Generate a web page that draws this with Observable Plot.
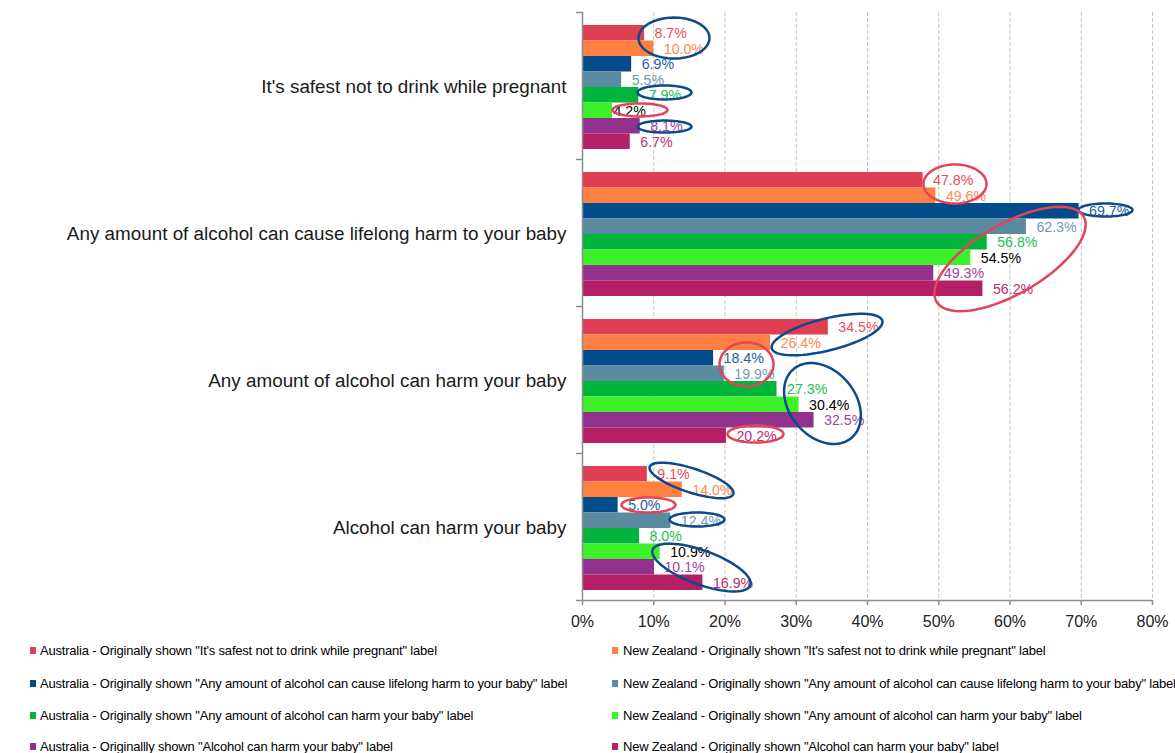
<!DOCTYPE html>
<html>
<head>
<meta charset="utf-8">
<script src="https://cdn.jsdelivr.net/npm/d3@7"></script>
<script src="https://cdn.jsdelivr.net/npm/@observablehq/plot@0.6"></script>
<style>
html, body { margin: 0; padding: 0; background: #fff; overflow: hidden; width: 1175px; height: 753px; }
#wrap { position: relative; width: 1175px; height: 753px; overflow: hidden; }
#legend { position: absolute; left: 0; top: 0; width: 1175px; height: 753px; pointer-events: none;
  font-family: "Liberation Sans", Arial, sans-serif; font-size: 13px; letter-spacing: -0.2px; color: #000; }
.item { position: absolute; white-space: nowrap; line-height: 16px; }
.sw { position: absolute; width: 6px; height: 7px; }
</style>
</head>
<body>
<div id="wrap"><div id="chart"></div><div id="legend"></div></div>
<script>
// ---------- data ----------
const categories = [
  "It's safest not to drink while pregnant",
  "Any amount of alcohol can cause lifelong harm to your baby",
  "Any amount of alcohol can harm your baby",
  "Alcohol can harm your baby"
];
const seriesNames = [
  'Australia - Originally shown "It\'s safest not to drink while pregnant" label',
  'New Zealand - Originally shown "It\'s safest not to drink while pregnant" label',
  'Australia - Originally shown "Any amount of alcohol can cause lifelong harm to your baby" label',
  'New Zealand - Originally shown "Any amount of alcohol can cause lifelong harm to your baby" label',
  'Australia - Originally shown "Any amount of alcohol can harm your baby" label',
  'New Zealand - Originally shown "Any amount of alcohol can harm your baby" label',
  'Australia - Originallly shown "Alcohol can harm your baby" label',
  'New Zealand - Originally shown "Alcohol can harm your baby" label'
];
const safestValues       = [8.7, 10.0, 6.9, 5.5, 7.9, 4.2, 8.1, 6.7];
const lifelongValues     = [47.8, 49.6, 69.7, 62.3, 56.8, 54.5, 49.3, 56.2];
const anyHarmValues      = [34.5, 26.4, 18.4, 19.9, 27.3, 30.4, 32.5, 20.2];
const alcoholHarmValues  = [9.1, 14.0, 5.0, 12.4, 8.0, 10.9, 10.1, 16.9];
const valuesByCategory = [safestValues, lifelongValues, anyHarmValues, alcoholHarmValues];
const xTicks = [0, 10, 20, 30, 40, 50, 60, 70, 80];

// ---------- styles ----------
const barColors   = ["#E03E52", "#FF8040", "#034C8C", "#5A8BA1", "#00B43C", "#3CF02A", "#93318E", "#B41F65"];
const labelColors = ["#E8505E", "#FF8A4E", "#2462A0", "#6E9AB2", "#22BE4E", "#000000", "#A043A0", "#BE2E72"];
const ringColors  = { blue: "#0B4A8B", red: "#E2445A" };

// annotation rings (data units: k = category, s = series position, x = percent)
const rings = [
  { k: 0, s: 0.31, x: 12.84, rx: 35.5, ry: 20.5, rot: 0,   color: "blue" },
  { k: 0, s: 3.82, x: 11.51, rx: 27,   ry: 7,    rot: 0,   color: "blue" },
  { k: 0, s: 4.95, x: 8.07,  rx: 27.5, ry: 6.5,  rot: 0,   color: "red"  },
  { k: 0, s: 6.02, x: 11.51, rx: 27,   ry: 6,    rot: 0,   color: "blue" },
  { k: 1, s: 0.24, x: 52.28, rx: 31.5, ry: 19.5, rot: 0,   color: "red"  },
  { k: 1, s: 1.92, x: 73.40, rx: 27,   ry: 6.5,  rot: 0,   color: "blue" },
  { k: 1, s: 5.08, x: 60.0,  rx: 85,   ry: 35,   rot: -30, color: "red"  },
  { k: 2, s: 0.47, x: 34.32, rx: 57,   ry: 16,   rot: -14, color: "blue" },
  { k: 2, s: 2.40, x: 23.02, rx: 27,   ry: 22,   rot: 0,   color: "red"  },
  { k: 2, s: 4.92, x: 33.68, rx: 45,   ry: 33,   rot: 50,  color: "blue" },
  { k: 2, s: 6.89, x: 24.28, rx: 28,   ry: 8.5,  rot: 0,   color: "red"  },
  { k: 3, s: 0.40, x: 15.30, rx: 44,   ry: 12,   rot: 18,  color: "blue" },
  { k: 3, s: 1.98, x: 9.26,  rx: 27,   ry: 7.5,  rot: 0,   color: "red"  },
  { k: 3, s: 2.92, x: 16.07, rx: 27.5, ry: 7,    rot: 0,   color: "blue" },
  { k: 3, s: 6.02, x: 16.70, rx: 52,   ry: 17,   rot: 20,  color: "blue" }
];

// ---------- layout ----------
const W = 1175, H = 635, ML = 582, MR = 23, MT = 12, MB = 35;
const pxPerPct = (W - ML - MR) / 80;
const pxPerCat = (H - MT - MB) / 4;
const padTop = 13 / 147, barH = 15.5 / 147;
const labelNudgePx = { "0-5": -9 };

const rows = valuesByCategory.flatMap((vals, k) => vals.map((v, s) => ({ k, s, v })));
const yTop = d => d.k + padTop + barH * d.s;
const yMid = d => d.k + padTop + barH * (d.s + 0.5);

const ringPts = rings.flatMap((r, id) => {
  const th = r.rot * Math.PI / 180;
  const cy = r.k + padTop + barH * (r.s + 0.5);
  return d3.range(0, 73).map(j => {
    const t = j / 72 * 2 * Math.PI;
    const ex = r.rx * Math.cos(t), ey = r.ry * Math.sin(t);
    const px = ex * Math.cos(th) - ey * Math.sin(th);
    const py = ex * Math.sin(th) + ey * Math.cos(th);
    return { id, x: r.x + px / pxPerPct, y: cy + py / pxPerCat, color: ringColors[r.color] };
  });
});

const axisGrey = "#8c8c8c";
const chart = Plot.plot({
  width: W, height: H,
  marginLeft: ML, marginRight: MR, marginTop: MT, marginBottom: MB,
  style: { fontFamily: "Liberation Sans, Arial, sans-serif", fontSize: "16px", color: "#222", background: "#fff", overflow: "visible" },
  x: { domain: [0, 80], ticks: xTicks, tickFormat: d => d + "%", tickSize: 0, tickPadding: 15, label: null },
  y: { domain: [0, 4], reverse: true, axis: null },
  color: { type: "identity" },
  marks: [
    Plot.ruleX(xTicks.filter(t => t > 0), { stroke: "#c4c4c4", strokeDasharray: "4,2", strokeWidth: 1 }),
    Plot.rect(rows, { x1: 0, x2: "v", y1: yTop, y2: d => yTop(d) + barH, fill: d => barColors[d.s] }),
    Plot.ruleX([0], { stroke: axisGrey, strokeWidth: 1.5 }),
    Plot.ruleY([4], { stroke: axisGrey, strokeWidth: 1.5 }),
    Plot.ruleY([0, 1, 2, 3, 4], { x1: -6 / pxPerPct, x2: 0, stroke: axisGrey, strokeWidth: 1.5 }),
    Plot.ruleX(xTicks, { y1: 4, y2: 4 + 5 / pxPerCat, stroke: axisGrey, strokeWidth: 1.5 }),
    Plot.text(categories, { x: 0, y: (d, i) => i + 0.5, text: d => d, textAnchor: "end", dx: -16, dy: 1, fontSize: 18.85, fill: "#1a1a1a" }),
    Plot.text(rows, {
      x: d => d.v + (labelNudgePx[d.k + "-" + d.s] || 0) / pxPerPct,
      y: yMid, text: d => d.v.toFixed(1) + "%", textAnchor: "start", dx: 10, dy: 0.5,
      fontSize: 14.2, fill: d => labelColors[d.s]
    }),
    Plot.line(ringPts, { x: "x", y: "y", z: "id", stroke: "color", strokeWidth: 2.5, curve: "linear-closed" })
  ]
});
document.getElementById("chart").appendChild(chart);

// ---------- legend ----------
const legend = document.getElementById("legend");
const rowCenters = [651, 683.5, 715.5, 746.5];
const cols = [{ sw: 30, tx: 40 }, { sw: 612, tx: 623 }];
seriesNames.forEach((name, i) => {
  const r = Math.floor(i / 2), c = cols[i % 2];
  const sw = document.createElement("div");
  sw.className = "sw";
  sw.style.left = c.sw + "px";
  sw.style.top = (rowCenters[r] - 4) + "px";
  sw.style.background = barColors[i];
  legend.appendChild(sw);
  const it = document.createElement("div");
  it.className = "item";
  it.style.left = c.tx + "px";
  it.style.top = (rowCenters[r] - 8) + "px";
  it.textContent = name;
  legend.appendChild(it);
});
</script>
</body>
</html>
